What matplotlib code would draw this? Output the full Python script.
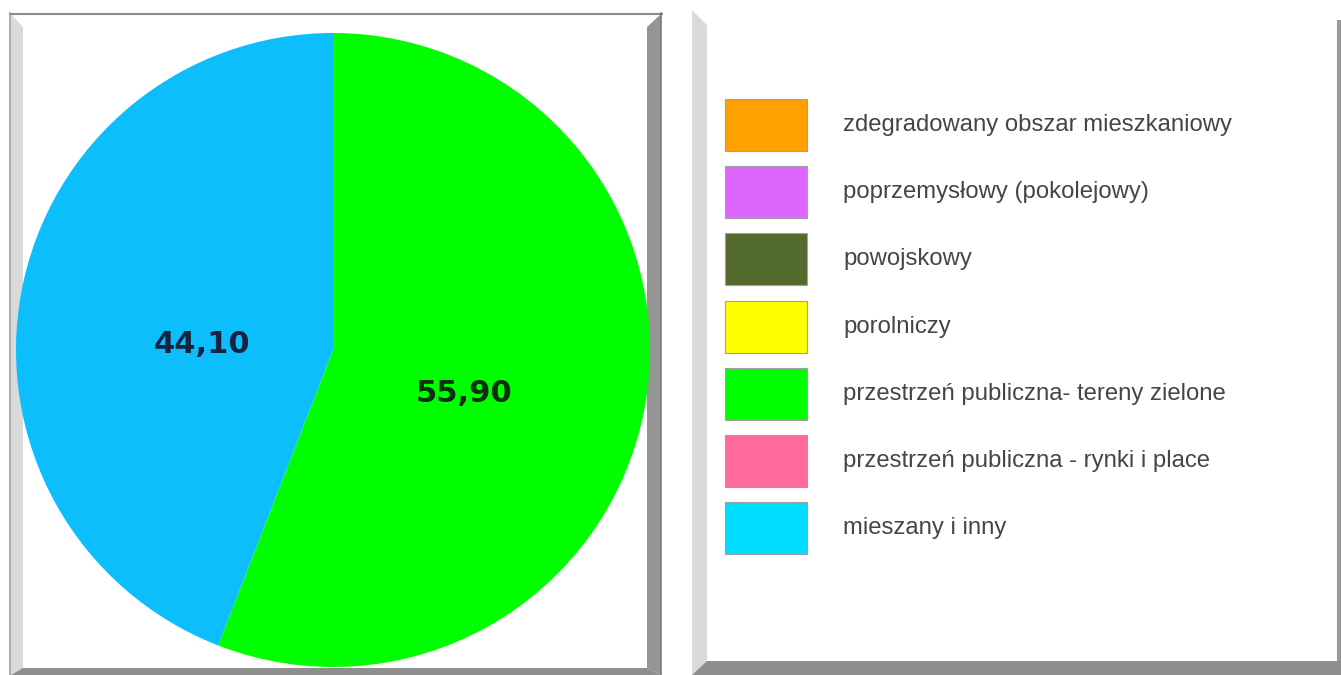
"""
Pie chart of regeneration area types with a separate legend panel.
"""
from matplotlib import pyplot as pp
from matplotlib.patches import Polygon, Rectangle
from matplotlib import rc

rc('font', **{'family': 'sans-serif', 'sans-serif': ['Liberation Sans', 'DejaVu Sans']})

# data
pieValues = [55.90, 44.10]
pieLabels = ["55,90", "44,10"]
pieColors = ["#00FF00", "#0CBEFC"]
pieTextColors = ["#0E2E10", "#16233F"]

legendLabels = ["zdegradowany obszar mieszkaniowy",
                "poprzemysłowy (pokolejowy)",
                "powojskowy",
                "porolniczy",
                "przestrzeń publiczna- tereny zielone",
                "przestrzeń publiczna - rynki i place",
                "mieszany i inny"]
legendColors = ["#FFA200", "#DD66FF", "#536A2F", "#FFFF00", "#00FF00", "#FF6A9E", "#00DCFF"]

W, H = 1341, 675
fig = pp.figure(figsize=(W/100, H/100), dpi=100)
fig.patch.set_facecolor('white')

# background axes in pixel coords for the framed panels
bg = fig.add_axes([0, 0, 1, 1])
bg.set_xlim(0, W)
bg.set_ylim(H, 0)
bg.axis('off')

light = "#DADADA"
dark = "#959595"
# left panel frame
bg.add_patch(Polygon([(11, 14), (23, 27), (23, 668), (11, 675)], closed=True, color=light, lw=0))
bg.add_patch(Polygon([(11, 675), (23, 668), (647, 668), (661, 675)], closed=True, color="#8E8E8E", lw=0))
bg.add_patch(Polygon([(647, 27), (661, 14), (661, 675), (647, 668)], closed=True, color=dark, lw=0))
bg.plot([10, 662], [13.5, 13.5], color="#8A8A8A", lw=1.5)
bg.plot([10.5, 10.5], [13, 675], color="#A0A0A0", lw=1.2)
bg.plot([661.5, 661.5], [13, 675], color="#7A7A7A", lw=1.2)

# right panel frame
bg.add_patch(Polygon([(692, 10), (707, 25), (707, 661), (692, 675)], closed=True, color=light, lw=0))
bg.add_patch(Polygon([(692, 675), (707, 661), (1341, 661), (1341, 675)], closed=True, color="#8E8E8E", lw=0))
bg.add_patch(Rectangle((1337, 20), 4, 641, color="#9A9A9A", lw=0))

# pie
cx, cy, r = 333, 350, 317
ax = fig.add_axes([(cx - r)/W, (H - cy - r)/H, 2*r/W, 2*r/H])
wedges, texts = ax.pie(pieValues, colors=pieColors, startangle=90, counterclock=False,
                       labels=pieLabels, labeldistance=0.42,
                       wedgeprops={'linewidth': 0})
for t, c in zip(texts, pieTextColors):
  t.set_color(c)
  t.set_fontsize(22)
  t.set_fontweight('bold')
  t.set_family(['DejaVu Sans'])
  t.set_ha('center')
  t.set_va('center')
  x, y = t.get_position()
  t.set_position((x, y - 0.06)) # labels sit a bit lower than the wedge midline
ax.set_xlim(-1, 1)
ax.set_ylim(-1, 1)

# legend panel
lg = fig.add_axes([0, 0, 1, 1])
lg.set_xlim(0, W)
lg.set_ylim(H, 0)
lg.axis('off')
rowStart, rowStep = 125, 67.2
for i, (lab, col) in enumerate(zip(legendLabels, legendColors)):
  yc = rowStart + i*rowStep
  lg.add_patch(Rectangle((725, yc - 26), 82, 52, facecolor=col, edgecolor="#A0A0A0", lw=0.8))
  lg.text(843, yc, lab, fontsize=17.2, color="#454545", va='center', ha='left')

pp.savefig('out.png', dpi=100)
